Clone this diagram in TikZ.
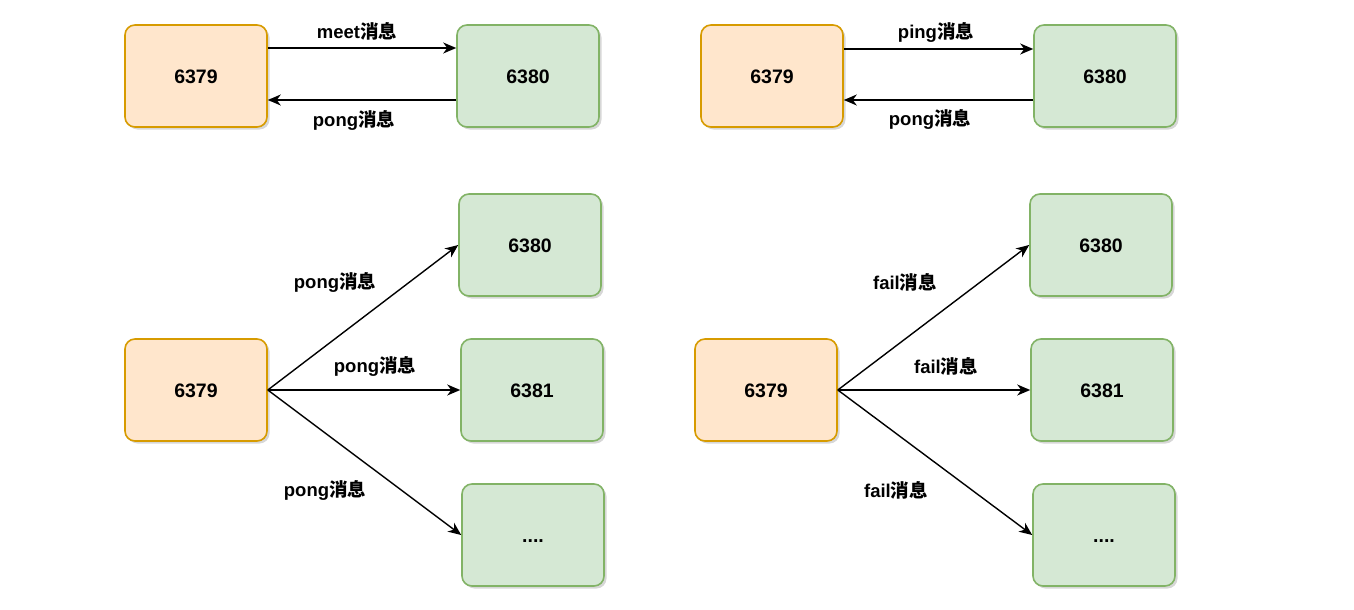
\documentclass[tikz,border=0pt]{standalone}
\usepackage{fontspec}
\setmainfont{Liberation Sans}
\newfontfamily\cjk{Noto Sans CJK SC}
\usepackage{tikz}
\usetikzlibrary{positioning, arrows.meta, shadows}
\definecolor{srcfill}{HTML}{FFE6CC}
\definecolor{srcline}{HTML}{D79B00}
\definecolor{dstfill}{HTML}{D5E8D4}
\definecolor{dstline}{HTML}{82B366}
\newcommand{\xiaoxi}{{\cjk 消息}}

\begin{document}
\begin{tikzpicture}[
    x=1pt, y=-1pt,
    every node/.style={font=\fontsize{18.5}{20}\selectfont\bfseries},
    box/.style={rounded corners=10pt, line width=1.6pt, minimum width=142pt, minimum height=102pt,
        font=\fontsize{19.5}{21}\selectfont\bfseries, text height=14pt, text depth=0pt,
        drop shadow={shadow xshift=2.5pt, shadow yshift=-2.5pt, fill=black!35, opacity=0.45}},
    srcbox/.style={box, draw=srcline, fill=srcfill},
    dstbox/.style={box, draw=dstline, fill=dstfill},
    msg/.style={draw, line width=1.4pt, -{Stealth[length=13pt, width=11pt, inset=4pt]}}
]
\useasboundingbox (0,0) rectangle (1354,610);

% meet
\node[srcbox] (meetA) at (196,76) {6379};
\node[dstbox] (meetB) at (528,76) {6380};
\node (meetL) at (357,31) {meet\xiaoxi};
\node (meetP) at (354,120) {pong\xiaoxi};
\draw[msg] ([yshift=28pt]meetA.east) -- ([yshift=28pt]meetB.west);
\draw[msg] ([yshift=-24pt]meetB.west) -- ([yshift=-24pt]meetA.east);

% ping
\node[srcbox] (pingA) at (772,76) {6379};
\node[dstbox] (pingB) at (1105,76) {6380};
\node (pingL) at (936,32) {ping\xiaoxi};
\node (pingP) at (930,119) {pong\xiaoxi};
\draw[msg] ([yshift=27pt]pingA.east) -- ([yshift=27pt]pingB.west);
\draw[msg] ([yshift=-24pt]pingB.west) -- ([yshift=-24pt]pingA.east);

% pong broadcast
\node[srcbox] (pongA) at (196,390) {6379};
\node[dstbox] (pongB) at (530,245) {6380};
\node[dstbox] (pongC) at (532,390) {6381};
\node[dstbox] (pongD) at (533,535) {....};
\node (pongL1) at (335,282) {pong\xiaoxi};
\node (pongL2) at (375,366) {pong\xiaoxi};
\node (pongL3) at (325,490) {pong\xiaoxi};
\draw[msg] (pongA.east) -- (pongB.west);
\draw[msg] (pongA.east) -- (pongC.west);
\draw[msg] (pongA.east) -- (pongD.west);

% fail broadcast
\node[srcbox] (failA) at (766,390) {6379};
\node[dstbox] (failB) at (1101,245) {6380};
\node[dstbox] (failC) at (1102,390) {6381};
\node[dstbox] (failD) at (1104,535) {....};
\node (failL1) at (905,282) {fail\xiaoxi};
\node (failL2) at (946,366) {fail\xiaoxi};
\node (failL3) at (896,490) {fail\xiaoxi};
\draw[msg] (failA.east) -- (failB.west);
\draw[msg] (failA.east) -- (failC.west);
\draw[msg] (failA.east) -- (failD.west);
\end{tikzpicture}
\end{document}
